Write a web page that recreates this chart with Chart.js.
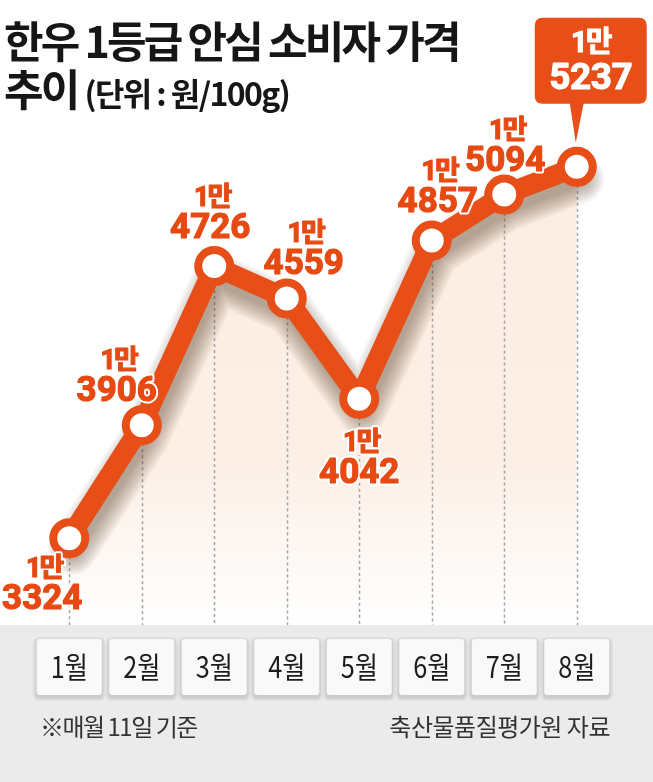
<!DOCTYPE html>
<html><head><meta charset="utf-8">
<script src="https://cdn.jsdelivr.net/npm/chart.js@4"></script>
<style>
html,body{margin:0;padding:0;background:#fff;}
#wrap{position:relative;width:653px;height:782px;overflow:hidden;background:#fff;}
#band{position:absolute;left:0;top:625px;width:653px;height:157px;background:#ebebeb;}
#c{position:absolute;left:0;top:0;}
.t{position:absolute;font-family:'Noto Sans CJK KR','Noto Sans',sans-serif;color:#161616;white-space:nowrap;}
#t1{left:4px;top:18px;font-size:43px;line-height:43px;font-weight:700;letter-spacing:-2.8px;}
#t2{left:4px;top:66px;font-size:43px;line-height:43px;font-weight:700;letter-spacing:-2.8px;}
#t2 span{font-size:32px;letter-spacing:-1.6px;font-weight:700;}
#f1{left:40px;top:714px;font-size:24px;line-height:24px;font-weight:400;letter-spacing:-1.5px;color:#333;}
#f2{right:43px;top:714px;font-size:24px;line-height:24px;font-weight:400;letter-spacing:-0.5px;color:#333;}
</style></head>
<body>
<div id="wrap">
  <div id="band"></div>
  <canvas id="c" width="653" height="782"></canvas>
  <div class="t" id="t1">한우 1등급 안심 소비자 가격</div>
  <div class="t" id="t2">추이 <span>(단위 : 원/100g)</span></div>
  <div class="t" id="f1">※매월 11일 기준</div>
  <div class="t" id="f2">축산물품질평가원 자료</div>
</div>
<script>
const months = ['1월','2월','3월','4월','5월','6월','7월','8월'];
const prices = [13324, 13906, 14726, 14559, 14042, 14857, 15094, 15237];

const ORANGE = '#e84e17';
const LABEL_ORANGE = '#e64a12';
// label placement relative to each point: [dx, dy of number line]
const labelPlace = [[-27,62],[-25,-33],[-4,-37],[17,-33],[0,75],[6,-37],[1,-32],null];

function splitMan(v){
  return [Math.floor(v/10000)+'만', String(v%10000).padStart(4,'0')];
}

const dashes = {
  id:'dashes',
  afterDatasetDraw(chart, args){
    if(args.index!==0) return;
    const ctx = chart.ctx, meta = chart.getDatasetMeta(1);
    const bottom = chart.chartArea.bottom;
    ctx.save();
    ctx.strokeStyle = '#a3a3a3';
    ctx.lineWidth = 1.5;
    ctx.setLineDash([3,3]);
    meta.data.forEach(p=>{
      ctx.beginPath();
      ctx.moveTo(Math.round(p.x)+0.5, p.y);
      ctx.lineTo(Math.round(p.x)+0.5, bottom);
      ctx.stroke();
    });
    ctx.restore();
  }
};
// soft drop shadow under the line, built from the line's own points
const softShadow = {
  id:'softShadow',
  beforeDatasetDraw(chart, args){
    if(args.index!==1) return;
    const ctx = chart.ctx, pts = chart.getDatasetMeta(1).data;
    ctx.save();
    ctx.lineJoin='round';
    ctx.lineCap='round';
    const ox=3, oy=12;
    for(let k=0;k<12;k++){
      ctx.strokeStyle='rgba(70,45,35,0.04)';
      ctx.lineWidth = 14 + k*3.2;
      ctx.beginPath();
      pts.forEach((p,i)=>{ i? ctx.lineTo(p.x+ox,p.y+oy) : ctx.moveTo(p.x+ox,p.y+oy); });
      ctx.stroke();
    }
    ctx.restore();
  }
};

function roundRect(ctx,x,y,w,h,r){
  ctx.beginPath();
  ctx.moveTo(x+r,y);
  ctx.lineTo(x+w-r,y); ctx.quadraticCurveTo(x+w,y,x+w,y+r);
  ctx.lineTo(x+w,y+h-r); ctx.quadraticCurveTo(x+w,y+h,x+w-r,y+h);
  ctx.lineTo(x+r,y+h); ctx.quadraticCurveTo(x,y+h,x,y+h-r);
  ctx.lineTo(x,y+r); ctx.quadraticCurveTo(x,y,x+r,y);
  ctx.closePath();
}

const labels = {
  id:'labels',
  afterDatasetsDraw(chart){
    const ctx = chart.ctx, meta = chart.getDatasetMeta(1);
    const last = meta.data.length-1;
    ctx.save();
    ctx.textAlign='center';
    ctx.textBaseline='middle';
    meta.data.forEach((p,i)=>{
      const [a,b] = splitMan(prices[i]);
      if(i===last){
        const bx = p.x+14, bw=112, by=p.y-149, bh=86;
        ctx.fillStyle = ORANGE;
        roundRect(ctx, bx-bw/2, by, bw, bh, 8);
        ctx.fill();
        ctx.beginPath();
        ctx.moveTo(p.x-7, by+bh-1);
        ctx.lineTo(p.x+7, by+bh-1);
        ctx.lineTo(p.x-1, p.y-24);
        ctx.closePath();
        ctx.fill();
        ctx.fillStyle='#fff';
        ctx.strokeStyle='#fff';
        ctx.lineWidth=1;
        ctx.letterSpacing='-2px';
        ctx.font = "700 29px Roboto, 'Noto Sans CJK KR'";
        ctx.fillText(a, bx, by+27); ctx.strokeText(a, bx, by+27);
        ctx.letterSpacing='-0.5px';
        ctx.font = "700 37px Roboto, 'Noto Sans CJK KR'";
        ctx.fillText(b, bx, by+62); ctx.strokeText(b, bx, by+62);
        ctx.letterSpacing='0px';
        return;
      }
      const [dx,dy] = labelPlace[i];
      const x = p.x+dx, y = p.y+dy;
      ctx.lineJoin='round';
      ctx.strokeStyle='#fff';
      ctx.lineWidth=5;
      ctx.letterSpacing='-2px';
      ctx.font = "700 27px Roboto, 'Noto Sans CJK KR'";
      ctx.strokeText(a, x+2, y-30);
      ctx.letterSpacing='0px';
      ctx.font = "700 35px Roboto, 'Noto Sans CJK KR'";
      ctx.strokeText(b, x, y);
      ctx.fillStyle=LABEL_ORANGE;
      ctx.strokeStyle=LABEL_ORANGE;
      ctx.lineWidth=1.2;
      ctx.letterSpacing='-2px';
      ctx.font = "700 27px Roboto, 'Noto Sans CJK KR'";
      ctx.fillText(a, x+2, y-30); ctx.strokeText(a, x+2, y-30);
      ctx.letterSpacing='0px';
      ctx.font = "700 35px Roboto, 'Noto Sans CJK KR'";
      ctx.fillText(b, x, y); ctx.strokeText(b, x, y);
    });
    ctx.restore();
  },
  afterDraw(chart){
    const ctx = chart.ctx, xs = chart.scales.x;
    ctx.save();
    months.forEach((m,i)=>{
      const cx = xs.getPixelForValue(i);
      ctx.save();
      ctx.fillStyle='rgba(0,0,0,0.035)';
      for(let k=4;k>=1;k--){
        roundRect(ctx, cx-32.5-k, 639-k+2, 65+2*k, 56+2*k, 3+k);
        ctx.fill();
      }
      ctx.fillStyle='#f9f9f9';
      roundRect(ctx, cx-32.5, 639, 65, 56, 3);
      ctx.fill();
      ctx.restore();
      ctx.save();
      ctx.translate(cx, 667);
      ctx.scale(0.84,1);
      ctx.fillStyle='#1c1c1c';
      ctx.font="400 30px 'Noto Sans CJK KR'";
      ctx.textAlign='center';
      ctx.textBaseline='middle';
      ctx.fillText(m,0,0);
      ctx.restore();
    });
    ctx.restore();
  }
};

new Chart(document.getElementById('c'), {
  type:'line',
  data:{
    labels: months,
    datasets:[
      {
        data: prices,
        order: 2,
        borderWidth:0,
        borderColor:'rgba(0,0,0,0)',
        pointRadius:0,
        fill:'start',
        backgroundColor:(context)=>{
          const ca = context.chart.chartArea;
          if(!ca) return 'rgba(0,0,0,0)';
          const g = context.chart.ctx.createLinearGradient(0,ca.top,0,ca.bottom);
          g.addColorStop(0,'rgba(252,237,226,1)');
          g.addColorStop(0.7,'rgba(252,239,230,1)');
          g.addColorStop(1,'rgba(255,255,255,1)');
          return g;
        }
      },
      {
        data: prices,
        order: 1,
        borderColor: ORANGE,
        borderWidth: 20,
        borderJoinStyle:'round',
        borderCapStyle:'round',
        tension:0,
        fill:false,
        pointRadius:16,
        pointBorderWidth:8,
        pointBackgroundColor:'#ffffff',
        pointBorderColor:ORANGE,
        pointHoverRadius:16
      }
    ]
  },
  options:{
    responsive:false,
    animation:false,
    devicePixelRatio:1,
    layout:{padding:{left:33,right:40,top:95,bottom:157}},
    plugins:{legend:{display:false},tooltip:{enabled:false},colors:{enabled:false}},
    scales:{
      x:{display:false, offset:true},
      y:{display:false, min:12877, max:15607}
    }
  },
  plugins:[dashes, softShadow, labels]
});
</script>
</body></html>
